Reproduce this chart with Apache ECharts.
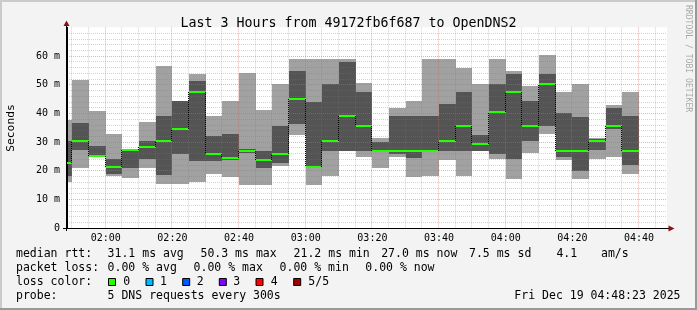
<!DOCTYPE html>
<html><head><meta charset="utf-8">
<script src="https://cdn.jsdelivr.net/npm/echarts@6/dist/echarts.min.js"></script>
<style>html,body{margin:0;padding:0;background:#f3f3f3}#c{width:697px;height:310px}</style>
</head><body><div id="c"></div>
<script>
// ---- data (minutes since midnight; ms) ----
const binEnd = [110,115,120,125,130,135,140,145,150,155,160,165,170,175,180,185,190,195,200,205,210,215,220,225,230,235,240,245,250,255,260,265,270,275,280];
const pingMin = [16.2,21.1,24.6,18.0,17.4,20.9,15.3,15.2,16.2,19.0,17.9,15.0,15.0,21.7,32.4,15.0,18.1,26.8,24.9,21.0,24.6,17.9,18.1,23.8,18.1,26.8,24.0,17.2,26.0,32.8,23.7,17.2,24.1,24.9,18.8];
const ping2   = [18.3,27.1,24.8,19.0,21.1,23.9,18.4,25.9,23.3,23.3,23.8,26.0,20.8,22.8,36.3,20.8,27.0,27.0,27.0,26.8,25.8,24.3,26.8,27.0,27.0,27.0,25.8,24.1,30.5,35.6,24.9,20.0,27.2,34.5,22.0];
const median  = [22.5,30.2,25.0,21.2,27.1,28.1,30.2,34.6,47.5,25.9,24.3,27.0,23.8,25.8,45.1,21.2,30.5,39.1,35.6,27.0,27.0,27.0,27.0,30.5,35.6,29.3,40.6,47.4,35.6,50.3,27.0,27.0,30.5,35.6,27.0];
const ping4   = [30.5,36.7,28.7,24.2,27.2,30.5,39.2,44.3,51.3,32.2,32.9,27.6,26.9,35.6,54.8,43.9,50.2,57.9,47.6,30.1,39.1,39.1,39.1,43.2,47.5,32.3,50.2,53.7,44.3,53.7,40.1,38.7,31.2,41.9,39.1];
const pingMax = [37.8,51.7,40.9,32.9,27.3,37.1,56.5,44.4,53.7,39.2,44.4,54.0,41.2,50.2,58.9,58.9,58.9,58.9,50.5,31.3,41.7,44.3,58.9,58.9,55.7,50.2,58.9,54.7,49.5,60.3,47.4,50.2,31.5,42.9,47.4];
const xLabelTicks = [120,140,160,180,200,220,240,260,280];
const xGridLines = [110,115,120,125,130,135,140,145,150,155,160,165,170,175,180,185,190,195,200,205,210,215,220,225,230,235,240,245,250,255,260,265,270,275,280,285];
const yTicks = [0,10,20,30,40,50,60];

const titleText = 'Last 3 Hours from 49172fb6f687 to OpenDNS2';
const rttLabel = 'median rtt:';
const rttStats = ['31.1 ms avg','50.3 ms max','21.2 ms min','27.0 ms now','7.5 ms sd','4.1','am/s'];
const lossLabel = 'packet loss:';
const lossStats = ['0.00 % avg','0.00 % max','0.00 % min','0.00 % now'];
const lossColorLabel = 'loss color:';
const lossColorNames = ['0','1','2','3','4','5/5'];
const probeLabel = 'probe:';
const probeText = '5 DNS requests every 300s';
const dateText = 'Fri Dec 19 04:48:23 2025';
const watermark = 'RRDTOOL / TOBI OETIKER';

// ---- layout / style ----
const MONO = '"DejaVu Sans Mono", monospace';
const X_MIN = 108 + 23/60, X_MAX = 288 + 23/60;
const LIGHT = '#a1a1a1', DARK = '#545454', GREEN = '#26ff00';
const MINOR = 'rgba(120,120,120,0.32)', MAJOR = 'rgba(255,80,80,0.5)';
const lossColors = ['#26ff00','#00b8ff','#0059ff','#7e00ff','#ff0000','#a00000'];
const rttX = [107.6,200.5,293.6,381.2,469,556.4,601];
const lossX = [107.6,193.6,279.6,365.3];
const boxX = [108.5,146,182.7,219.3,256,293.7];
const boxLabelX = [123.3,160,196.7,233.3,270.7,308.3];
const LEG_FONT = 11.5;

function hhmm(v){ const h = Math.floor(v/60), m = Math.round(v - h*60); return String(h).padStart(2,'0') + ':' + String(m).padStart(2,'0'); }

const smokeData = binEnd.map((e,i) => [e-5, e, pingMin[i], ping2[i], median[i], ping4[i], pingMax[i]]);
const medianData = binEnd.map((e,i) => [e-5, e, median[i], i > 0 ? median[i-1] : median[i]]);
const gridData = xGridLines.map(v => [v, xLabelTicks.indexOf(v) >= 0 ? 1 : 0]);

function colX(api, cs){
  const x0 = Math.max(cs.x, Math.round(api.coord([api.value(0), 0])[0]));
  const x1 = Math.round(api.coord([api.value(1), 0])[0]);
  return [x0, x1];
}
function renderSmoke(params, api){
  const cs = params.coordSys;
  const [x0, x1] = colX(api, cs);
  const py = v => Math.round(api.coord([api.value(0), v])[1]);
  const band = (lo, hi, fill) => {
    const yl = py(lo), yh = py(hi);
    return {type:'rect', shape:{x:x0, y:yh, width:x1-x0, height:Math.max(0, yl-yh)}, style:{fill}};
  };
  return {type:'group', children:[
    band(api.value(2), api.value(3), LIGHT),
    band(api.value(3), api.value(5), DARK),
    band(api.value(5), api.value(6), LIGHT)
  ]};
}
function renderMedian(params, api){
  const cs = params.coordSys;
  const [x0, x1] = colX(api, cs);
  const ym = Math.round(api.coord([api.value(0), api.value(2)])[1]);
  const yp = Math.round(api.coord([api.value(0), api.value(3)])[1]);
  const children = [];
  if (params.dataIndex > 0 && yp !== ym) {
    children.push({type:'line', shape:{x1:x0-0.5, y1:yp, x2:x0-0.5, y2:ym}, style:{stroke:'#000', lineWidth:1, lineDash:[1,1]}});
  }
  children.push({type:'rect', shape:{x:x0, y:ym-1, width:x1-x0, height:2}, style:{fill:GREEN}});
  return {type:'group', children};
}
function renderXGrid(params, api){
  const cs = params.coordSys;
  const x = Math.round(api.coord([api.value(0), 0])[0]) - 0.5;
  return {type:'line', shape:{x1:x, y1:cs.y, x2:x, y2:cs.y+cs.height},
    style:{stroke: api.value(1) === 1 ? MAJOR : MINOR, lineWidth:1, lineDash:[1,1]}};
}

const chart = echarts.init(document.getElementById('c'), null, {renderer:'canvas'});

const graphics = [];
// border shading
graphics.push({type:'rect', shape:{x:0,y:0,width:697,height:2}, style:{fill:'#cbcbcb'}, silent:true});
graphics.push({type:'rect', shape:{x:0,y:0,width:2,height:310}, style:{fill:'#cbcbcb'}, silent:true});
graphics.push({type:'rect', shape:{x:0,y:308,width:697,height:2}, style:{fill:'#999999'}, silent:true});
graphics.push({type:'rect', shape:{x:695,y:0,width:2,height:310}, style:{fill:'#999999'}, silent:true});
// axis extensions and arrows
graphics.push({type:'line', z:10, shape:{x1:66.5,y1:231,x2:66.5,y2:24}, style:{stroke:'#000', lineWidth:1}});
graphics.push({type:'line', z:10, shape:{x1:63,y1:228.5,x2:670,y2:228.5}, style:{stroke:'#000', lineWidth:1}});
graphics.push({type:'polygon', z:11, shape:{points:[[66.5,20.5],[63.5,26],[69.5,26]]}, style:{fill:'#8b1010'}});
graphics.push({type:'polygon', z:11, shape:{points:[[674.5,228.5],[668.5,225.5],[668.5,231.5]]}, style:{fill:'#8b1010'}});
// y axis name
graphics.push({type:'text', x:11, y:128, rotation:Math.PI/2, style:{text:'Seconds', font:'11.3px ' + MONO, fill:'#000', align:'center', verticalAlign:'middle'}});
// watermark
graphics.push({type:'text', x:688, y:5, rotation:-Math.PI/2, style:{text:watermark, font:'8.1px ' + MONO, fill:'#aaaaaa', align:'left', verticalAlign:'middle'}});
// legend
const legText = (txt, x, y, align) => graphics.push({type:'text', x, y, style:{text:txt, font:LEG_FONT + 'px ' + MONO, fill:'#000', align:align || 'left', verticalAlign:'middle'}});
const L1 = 254.3, L2 = 268.3, L3 = 282.2, L4 = 296.2;
legText(rttLabel, 16, L1);
rttStats.forEach((t,i) => legText(t, rttX[i], L1));
legText(lossLabel, 16, L2);
lossStats.forEach((t,i) => legText(t, lossX[i], L2));
legText(lossColorLabel, 16, L3);
lossColorNames.forEach((t,i) => {
  graphics.push({type:'rect', shape:{x:boxX[i], y:278.5, width:7, height:7}, style:{fill:lossColors[i], stroke:'#000', lineWidth:1}});
  legText(t, boxLabelX[i], L3);
});
legText(probeLabel, 16, L4);
legText(probeText, 107.6, L4);
legText(dateText, 680.5, L4, 'right');

chart.setOption({
  animation: false,
  backgroundColor: '#f3f3f3',
  title: {text: titleText, left: 'center', top: 12, textStyle: {fontFamily: MONO, fontSize: 13.3, fontWeight: 'normal', color: '#000'}},
  grid: {left: 67, right: 30, top: 27.3, bottom: 82, show: true, backgroundColor: '#ffffff', borderWidth: 0},
  xAxis: {
    type: 'value', min: X_MIN, max: X_MAX, z: 5,
    axisLine: {show: true, lineStyle: {color: '#000', width: 1}},
    axisTick: {show: false},
    splitLine: {show: false},
    axisLabel: {customValues: xLabelTicks, formatter: hhmm, fontFamily: MONO, fontSize: 10, color: '#000', margin: 5}
  },
  yAxis: {
    type: 'value', min: 0, max: 70, interval: 10, z: 3,
    axisLine: {show: true, lineStyle: {color: '#000', width: 1}},
    axisTick: {show: false},
    axisLabel: {formatter: v => yTicks.indexOf(v) < 0 ? '' : (v === 0 ? '0' : v + ' m'), fontFamily: MONO, fontSize: 10, color: '#000', margin: 7, showMaxLabel: false},
    splitLine: {show: true, showMinLine: false, showMaxLine: false, lineStyle: {color: MAJOR, width: 1, type: [1,1]}},
    minorTick: {show: false, splitNumber: 5},
    minorSplitLine: {show: true, lineStyle: {color: MINOR, width: 1, type: [1,1]}}
  },
  graphic: graphics,
  series: [
    {type: 'custom', name: 'smoke', z: 2, silent: true, renderItem: renderSmoke, data: smokeData, encode: {x: [0,1], y: [2,6]}},
    {type: 'custom', name: 'xgrid', z: 3, silent: true, renderItem: renderXGrid, data: gridData, encode: {x: 0}},
    {type: 'custom', name: 'median', z: 4, silent: true, renderItem: renderMedian, data: medianData, encode: {x: [0,1], y: 2}}
  ]
});
</script>
</body></html>
